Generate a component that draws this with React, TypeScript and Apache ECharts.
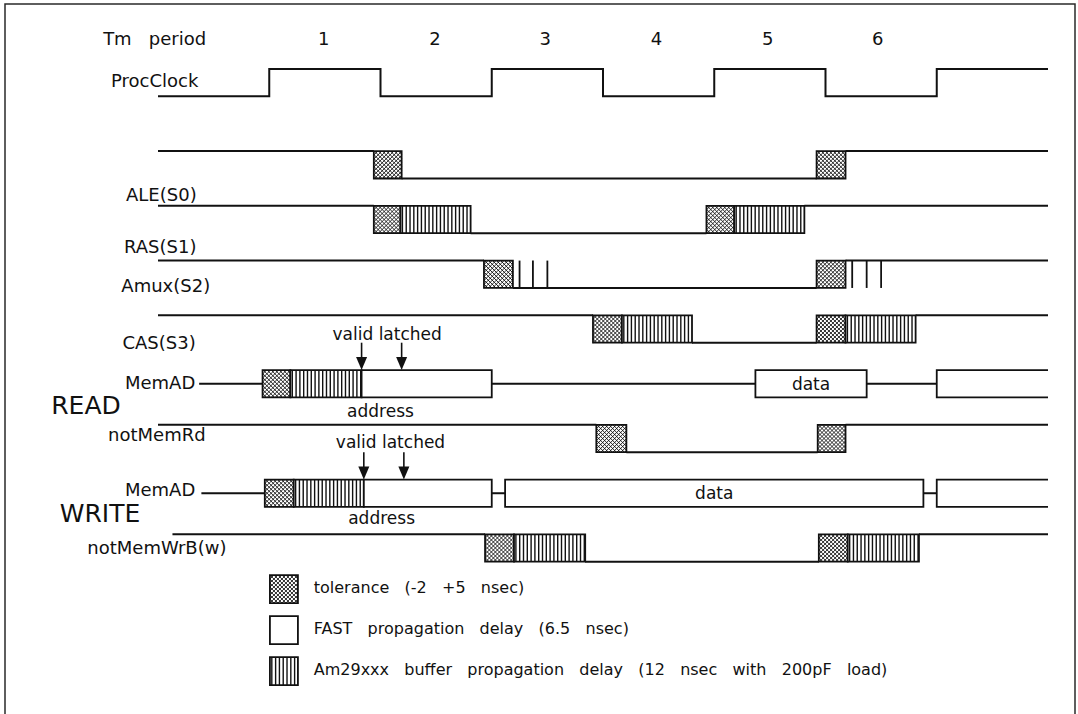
import React, { useEffect, useRef } from 'react';
import * as echarts from 'echarts';

// ---------- data (time in Tm units, rows in signal-swing units) ----------
const tmPeriodLabels = ['1', '2', '3', '4', '5', '6'];
const tmPeriodCenters = [0.49, 1.49, 2.48, 3.48, 4.48, 5.47];

const clockEdges = [0, 1, 2, 3, 4, 5, 6];
const clockStart = -1;
const clockEnd = 7;
const clockRow = 0;

const signalNames = ['ALE(S0)', 'RAS(S1)', 'Amux(S2)', 'CAS(S3)', 'MemAD', 'notMemRd', 'MemAD', 'notMemWrB(w)'];
const signalRows = [3, 5, 7, 9, 11, 13, 15, 17];

// H = high, L = low, M = mid (bus idle), T = tolerance, B = buffer delay,
// O = FAST delay / valid bus, D = data bus, E = open-ended bus
const aleSegments: [string, number, number][] = [
  ['H', -1, 0.94], ['T', 0.94, 1.19], ['L', 1.19, 4.92], ['T', 4.92, 5.18], ['H', 5.18, 7],
];
const rasSegments: [string, number, number][] = [
  ['H', -1, 0.94], ['T', 0.94, 1.18], ['B', 1.18, 1.81], ['L', 1.81, 3.93],
  ['T', 3.93, 4.18], ['B', 4.18, 4.81], ['H', 4.81, 7],
];
const amuxSegments: [string, number, number][] = [
  ['H', -1, 1.93], ['T', 1.93, 2.19], ['L', 2.19, 4.92], ['T', 4.92, 5.18], ['H', 5.18, 7],
];
const casSegments: [string, number, number][] = [
  ['H', -1, 2.91], ['T', 2.91, 3.17], ['B', 3.17, 3.8], ['L', 3.8, 4.92],
  ['T', 4.92, 5.18], ['B', 5.18, 5.81], ['H', 5.81, 7],
];
const memAdReadSegments: [string, number, number][] = [
  ['M', -0.63, -0.06], ['T', -0.06, 0.19], ['B', 0.19, 0.83], ['O', 0.83, 2.0],
  ['M', 2.0, 4.37], ['D', 4.37, 5.37], ['M', 5.37, 6.0], ['E', 6.0, 7.0],
];
const notMemRdSegments: [string, number, number][] = [
  ['H', -1, 2.94], ['T', 2.94, 3.21], ['L', 3.21, 4.93], ['T', 4.93, 5.18], ['H', 5.18, 7],
];
const memAdWriteSegments: [string, number, number][] = [
  ['M', -0.61, -0.04], ['T', -0.04, 0.22], ['B', 0.22, 0.85], ['O', 0.85, 2.0],
  ['M', 2.0, 2.12], ['D', 2.12, 5.88], ['M', 5.88, 6.0], ['E', 6.0, 7.0],
];
const notMemWrBSegments: [string, number, number][] = [
  ['H', -0.87, 1.94], ['T', 1.94, 2.2], ['B', 2.2, 2.84], ['L', 2.84, 4.94],
  ['T', 4.94, 5.2], ['B', 5.2, 5.84], ['H', 5.84, 7],
];
const signalSegments = [
  aleSegments, rasSegments, amuxSegments, casSegments,
  memAdReadSegments, notMemRdSegments, memAdWriteSegments, notMemWrBSegments,
];

const amuxRow = 7;
const amuxTicks = [2.25, 2.37, 2.5, 5.24, 5.37, 5.5];

const latchRows = [11, 15];
const latchValid = [0.83, 0.85];
const latchLatched = [1.19, 1.21];

const busText = 'data';
const sectionNames = ['READ', 'WRITE'];
const annotationTexts = ['address', 'address', 'valid latched', 'valid latched'];

const legendKinds = ['T', 'O', 'B'];
const legendTexts = [
  'tolerance   (-2   +5   nsec)',
  'FAST   propagation   delay   (6.5   nsec)',
  'Am29xxx   buffer   propagation   delay   (12   nsec   with   200pF   load)',
];

// ---------- layout (positions in axis units) ----------
const rowLabelTexts = ['Tm   period', 'ProcClock', ...signalNames];
const rowLabelLayout: [number, number, string][] = [
  [-1.03, -1.13, 'center'], [-1.03, 0.42, 'center'], [-0.97, 4.6, 'center'],
  [-0.98, 6.5, 'center'], [-0.93, 7.92, 'center'], [-0.99, 9.98, 'center'],
  [-0.665, 11.44, 'right'], [-1.01, 13.36, 'center'], [-0.665, 15.38, 'right'],
  [-1.01, 17.48, 'center'],
];
const tmRowY = -1.13;
const sectionLayout: [number, number][] = [[-1.647, 12.3], [-1.521, 16.24]];
const annotationLayout: [number, number][] = [[1.0, 12.48], [1.01, 16.42], [1.06, 9.68], [1.09, 13.63]];
const legendRows = [19.0, 20.5, 22.0];
const legendBoxT = 0.006;
const legendTextT = 0.4;

// ---------- styles ----------
const INK = '#111111';
const FONT = '"DejaVu Sans", "Liberation Sans", sans-serif';
const LINE_W = 2;
const BOX_W = 1.8;
const LEGEND_BOX = 28;
const ARROW_W = 11;
const ARROW_H = 13;

function crossHatch(x: number, y: number, w: number, h: number) {
  const els: any[] = [];
  const s = 4;
  for (let k = -h; k <= w; k += s) {
    const xa = Math.max(0, k), xb = Math.min(w, h + k);
    if (xb > xa) els.push({ type: 'line', shape: { x1: x + xa, y1: y + xa - k, x2: x + xb, y2: y + xb - k }, style: { stroke: INK, lineWidth: 0.9 } });
  }
  for (let k = 0; k <= w + h; k += s) {
    const xa = Math.max(0, k - h), xb = Math.min(w, k);
    if (xb > xa) els.push({ type: 'line', shape: { x1: x + xa, y1: y + k - xa, x2: x + xb, y2: y + k - xb }, style: { stroke: INK, lineWidth: 0.9 } });
  }
  return els;
}

function stripes(x: number, y: number, w: number, h: number) {
  const els: any[] = [];
  const s = 3.8;
  for (let xx = x + s / 2; xx < x + w - 0.5; xx += s) {
    els.push({ type: 'line', shape: { x1: xx, y1: y, x2: xx, y2: y + h }, style: { stroke: INK, lineWidth: 1.4 } });
  }
  return els;
}

function boxElements(kind: string, x: number, y: number, w: number, h: number, label?: string) {
  const els: any[] = [{ type: 'rect', shape: { x, y, width: w, height: h }, style: { fill: '#fff', stroke: null } }];
  if (kind === 'T') els.push(...crossHatch(x, y, w, h));
  if (kind === 'B') els.push(...stripes(x, y, w, h));
  els.push({ type: 'rect', shape: { x, y, width: w, height: h }, style: { fill: 'none', stroke: INK, lineWidth: BOX_W } });
  if (label) {
    els.push({ type: 'text', style: { text: label, x: x + w / 2, y: y + h / 2, align: 'center', verticalAlign: 'middle', fontSize: 17, fontFamily: FONT, fill: INK } });
  }
  return els;
}

type Seg = { row: number; kind: string; t0: number; t1: number };
const segItems: Seg[] = [];
signalSegments.forEach((segs, si) => segs.forEach((s) => segItems.push({ row: signalRows[si], kind: s[0], t0: s[1], t1: s[2] })));

function buildClockPoints() {
  const pts: number[][] = [];
  let level = clockRow + 1; // starts low
  pts.push([clockStart, level]);
  clockEdges.forEach((e) => {
    pts.push([e, level]);
    level = level === clockRow ? clockRow + 1 : clockRow;
    pts.push([e, level]);
  });
  pts.push([clockEnd, level]);
  return pts;
}
const clockPoints = buildClockPoints();

const textStyle = (text: string, x: number, y: number, align: string, size: number) => ({
  type: 'text',
  style: { text, x, y, align, verticalAlign: 'middle', fontSize: size, fontFamily: FONT, fill: INK },
});

function buildOption(): any {
  return {
    animation: false,
    backgroundColor: '#ffffff',
    grid: { left: 158, top: 69, width: 890, height: 20 * 27.37 },
    xAxis: { type: 'value', min: -1, max: 7, show: false },
    yAxis: { type: 'value', min: 0, max: 20, inverse: true, show: false },
    graphic: [
      { type: 'rect', silent: true, shape: { x: 5, y: 4, width: 1070, height: 760 }, style: { fill: 'none', stroke: '#2a2a2a', lineWidth: 1.5 } },
    ],
    series: [
      {
        type: 'custom', name: 'ProcClock', clip: false, silent: true,
        data: [[clockStart, clockRow]],
        renderItem: (_p: any, api: any) => ({
          type: 'polyline',
          shape: { points: clockPoints.map((pt) => api.coord(pt)) },
          style: { fill: 'none', stroke: INK, lineWidth: LINE_W },
        }),
      },
      {
        type: 'custom', name: 'signals', clip: false, silent: true,
        data: segItems.map((s) => [s.t0, s.row, s.t1]),
        renderItem: (params: any, api: any) => {
          const it = segItems[params.dataIndex];
          const [x0, yT] = api.coord([it.t0, it.row]);
          const [x1, yB] = api.coord([it.t1, it.row + 1]);
          const yM = (yT + yB) / 2;
          const line = (ya: number) => ({ type: 'line', shape: { x1: x0, y1: ya, x2: x1, y2: ya }, style: { stroke: INK, lineWidth: LINE_W } });
          if (it.kind === 'H') return line(yT);
          if (it.kind === 'L') return line(yB);
          if (it.kind === 'M') return line(yM);
          if (it.kind === 'E') {
            return { type: 'polyline', shape: { points: [[x1, yT], [x0, yT], [x0, yB], [x1, yB]] }, style: { fill: 'none', stroke: INK, lineWidth: BOX_W } };
          }
          return { type: 'group', children: boxElements(it.kind, x0, yT, x1 - x0, yB - yT, it.kind === 'D' ? busText : undefined) };
        },
      },
      {
        type: 'custom', name: 'Amux ticks', clip: false, silent: true,
        data: amuxTicks.map((t) => [t, amuxRow]),
        renderItem: (_p: any, api: any) => {
          const a = api.coord([api.value(0), amuxRow]);
          const b = api.coord([api.value(0), amuxRow + 1]);
          return { type: 'line', shape: { x1: a[0], y1: a[1], x2: b[0], y2: b[1] }, style: { stroke: INK, lineWidth: 1.8 } };
        },
      },
      {
        type: 'custom', name: 'latch arrows', clip: false, silent: true,
        data: latchRows.flatMap((r, i) => [[latchValid[i], r], [latchLatched[i], r]]),
        renderItem: (_p: any, api: any) => {
          const t = api.value(0), r = api.value(1);
          const top = api.coord([t, r - 1]);
          const tip = api.coord([t, r]);
          return {
            type: 'group', children: [
              { type: 'line', shape: { x1: top[0], y1: top[1], x2: tip[0], y2: tip[1] - ARROW_H + 2 }, style: { stroke: INK, lineWidth: 1.6 } },
              { type: 'polygon', shape: { points: [[tip[0] - ARROW_W / 2, tip[1] - ARROW_H], [tip[0] + ARROW_W / 2, tip[1] - ARROW_H], [tip[0], tip[1]]] }, style: { fill: INK } },
            ],
          };
        },
      },
      {
        type: 'custom', name: 'texts', clip: false, silent: true,
        data: [[0, 0]],
        renderItem: (_p: any, api: any) => {
          const children: any[] = [];
          tmPeriodLabels.forEach((lab, i) => {
            const p = api.coord([tmPeriodCenters[i], tmRowY]);
            children.push(textStyle(lab, p[0], p[1], 'center', 18));
          });
          rowLabelTexts.forEach((lab, i) => {
            const [t, r, al] = rowLabelLayout[i];
            const p = api.coord([t, r]);
            children.push(textStyle(lab, p[0], p[1], al, 18));
          });
          sectionNames.forEach((lab, i) => {
            const p = api.coord(sectionLayout[i]);
            children.push(textStyle(lab, p[0], p[1], 'center', 25));
          });
          annotationTexts.forEach((lab, i) => {
            const p = api.coord(annotationLayout[i]);
            children.push(textStyle(lab, p[0], p[1], 'center', 17));
          });
          return { type: 'group', children };
        },
      },
      {
        type: 'custom', name: 'legend', clip: false, silent: true,
        data: legendRows.map((r) => [legendBoxT, r]),
        renderItem: (params: any, api: any) => {
          const i = params.dataIndex;
          const c = api.coord([legendBoxT, legendRows[i]]);
          const tx = api.coord([legendTextT, legendRows[i]]);
          const x = c[0], y = c[1] - LEGEND_BOX / 2;
          return {
            type: 'group',
            children: [
              ...boxElements(legendKinds[i], x, y, LEGEND_BOX, LEGEND_BOX),
              textStyle(legendTexts[i], tx[0], tx[1] - 2, 'left', 16),
            ],
          };
        },
      },
    ],
  };
}

export default function App() {
  const ref = useRef<HTMLDivElement>(null);
  useEffect(() => {
    if (!ref.current) return;
    const chart = echarts.init(ref.current, null, { renderer: 'svg' });
    chart.setOption(buildOption());
    return () => chart.dispose();
  }, []);
  return (
    <div
      ref={ref}
      style={{ position: 'fixed', left: 0, top: 0, width: 1078, height: 714, background: '#fff', whiteSpace: 'pre' }}
    />
  );
}
